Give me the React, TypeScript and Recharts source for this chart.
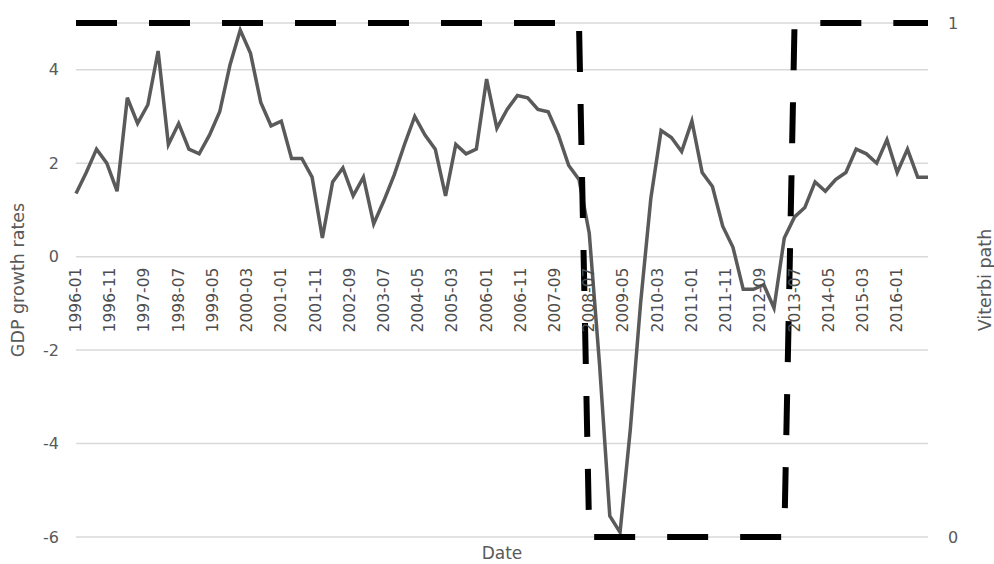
import { LineChart, Line, XAxis, YAxis, CartesianGrid } from "recharts";

// quarterly GDP growth rates, 1996-01 .. 2016-10
const gdpGrowth = [
  1.35, 1.8, 2.3, 2.0, 1.4, 3.4, 2.85, 3.25, 4.4, 2.4,
  2.85, 2.3, 2.2, 2.6, 3.1, 4.1, 4.85, 4.35, 3.3, 2.8,
  2.9, 2.1, 2.1, 1.7, 0.4, 1.6, 1.9, 1.3, 1.7, 0.7,
  1.2, 1.75, 2.4, 3.0, 2.6, 2.3, 1.3, 2.4, 2.2, 2.3,
  3.8, 2.75, 3.15, 3.45, 3.4, 3.15, 3.1, 2.6, 1.95, 1.65,
  0.5, -2.3, -5.55, -5.9, -3.7, -1.0, 1.25, 2.7, 2.55, 2.25,
  2.9, 1.8, 1.5, 0.65, 0.2, -0.7, -0.7, -0.6, -1.1, 0.4,
  0.85, 1.05, 1.6, 1.4, 1.65, 1.8, 2.3, 2.2, 2.0, 2.5,
  1.8, 2.3, 1.7, 1.7,
];

// most likely regime per quarter
const viterbiPath = [
  1, 1, 1, 1, 1, 1, 1, 1, 1, 1,
  1, 1, 1, 1, 1, 1, 1, 1, 1, 1,
  1, 1, 1, 1, 1, 1, 1, 1, 1, 1,
  1, 1, 1, 1, 1, 1, 1, 1, 1, 1,
  1, 1, 1, 1, 1, 1, 1, 1, 1, 1,
  0, 0, 0, 0, 0, 0, 0, 0, 0, 0,
  0, 0, 0, 0, 0, 0, 0, 0, 0, 0,
  1, 1, 1, 1, 1, 1, 1, 1, 1, 1,
  1, 1, 1, 1,
];

const xTickLabels = [
  "1996-01", "1996-11", "1997-09", "1998-07", "1999-05", "2000-03", "2001-01",
  "2001-11", "2002-09", "2003-07", "2004-05", "2005-03", "2006-01", "2006-11",
  "2007-09", "2008-07", "2009-05", "2010-03", "2011-01", "2011-11", "2012-09",
  "2013-07", "2014-05", "2015-03", "2016-01",
];

const gdpTicks = [-6, -4, -2, 0, 2, 4];
const viterbiTicks = [0, 1];

const START_YEAR = 1996;
const Y_MIN = -6;
const Y_MAX = 5;

const W = 994;
const H = 564;
const TOP = 23;
const BOTTOM = 27;
const LEFT_W = 76;
const RIGHT_W = 66;
const PLOT_H = H - TOP - BOTTOM;
const ZERO_Y = TOP + (PLOT_H * Y_MAX) / (Y_MAX - Y_MIN);

const FONT = "'DejaVu Sans', sans-serif";
const TEXT = "#595959";

const toMonth = (label: string) => {
  const [y, m] = label.split("-").map(Number);
  return (y - START_YEAR) * 12 + (m - 1);
};

const fromMonth = (idx: number) => {
  const y = START_YEAR + Math.floor(idx / 12);
  const m = (idx % 12) + 1;
  return `${y}-${String(m).padStart(2, "0")}`;
};

const data = gdpGrowth.map((gdp, i) => ({
  month: i * 3,
  gdp,
  viterbi: viterbiPath[i],
}));

const lastMonth = (gdpGrowth.length - 1) * 3;

// Excel puts the date labels just under the zero line
const DateTick = (props: any) => {
  const { x, payload } = props;
  return (
    <text
      transform={`translate(${x},${ZERO_Y + 11}) rotate(-90)`}
      textAnchor="end"
      dominantBaseline="central"
      fill="#4d4d4d"
      fontSize={15.5}
      fontFamily={FONT}
    >
      {fromMonth(payload.value)}
    </text>
  );
};

export default function App() {
  return (
    <div style={{ position: "absolute", left: 0, top: 0, background: "#fff" }}>
      <LineChart
        width={W}
        height={H}
        data={data}
        margin={{ top: TOP, right: 0, bottom: 0, left: 0 }}
      >
        <CartesianGrid
          yAxisId="left"
          vertical={false}
          stroke="#d9d9d9"
          strokeWidth={1.5}
        />
        <XAxis
          dataKey="month"
          type="number"
          domain={[0, lastMonth]}
          ticks={xTickLabels.map(toMonth)}
          interval={0}
          tick={<DateTick />}
          axisLine={false}
          tickLine={false}
          height={BOTTOM}
          label={{
            value: "Date",
            position: "insideBottom",
            offset: 5,
            fill: TEXT,
            fontSize: 17,
            fontFamily: FONT,
          }}
        />
        <YAxis
          yAxisId="left"
          orientation="left"
          width={LEFT_W}
          domain={[Y_MIN, Y_MAX]}
          ticks={gdpTicks}
          interval={0}
          axisLine={false}
          tickLine={false}
          tickMargin={11}
          tick={{ fill: TEXT, fontSize: 16, fontFamily: FONT }}
          label={{
            value: "GDP growth rates",
            angle: -90,
            position: "insideLeft",
            offset: 18,
            style: { textAnchor: "middle" },
            fill: TEXT,
            fontSize: 17.5,
            fontFamily: FONT,
          }}
        />
        <YAxis
          yAxisId="right"
          orientation="right"
          width={RIGHT_W}
          domain={[0, 1]}
          ticks={viterbiTicks}
          interval={0}
          axisLine={false}
          tickLine={false}
          tickMargin={14}
          tick={{ fill: TEXT, fontSize: 16, fontFamily: FONT }}
          label={{
            value: "Viterbi path",
            angle: -90,
            position: "insideRight",
            offset: 9,
            style: { textAnchor: "middle" },
            fill: TEXT,
            fontSize: 17.5,
            fontFamily: FONT,
          }}
        />
        <Line
          yAxisId="left"
          type="linear"
          dataKey="gdp"
          stroke="#5a5a5a"
          strokeWidth={3.5}
          dot={false}
          isAnimationActive={false}
        />
        <Line
          yAxisId="right"
          type="linear"
          dataKey="viterbi"
          stroke="#000"
          strokeWidth={6}
          strokeDasharray="41 32"
          dot={false}
          isAnimationActive={false}
        />
      </LineChart>
    </div>
  );
}
